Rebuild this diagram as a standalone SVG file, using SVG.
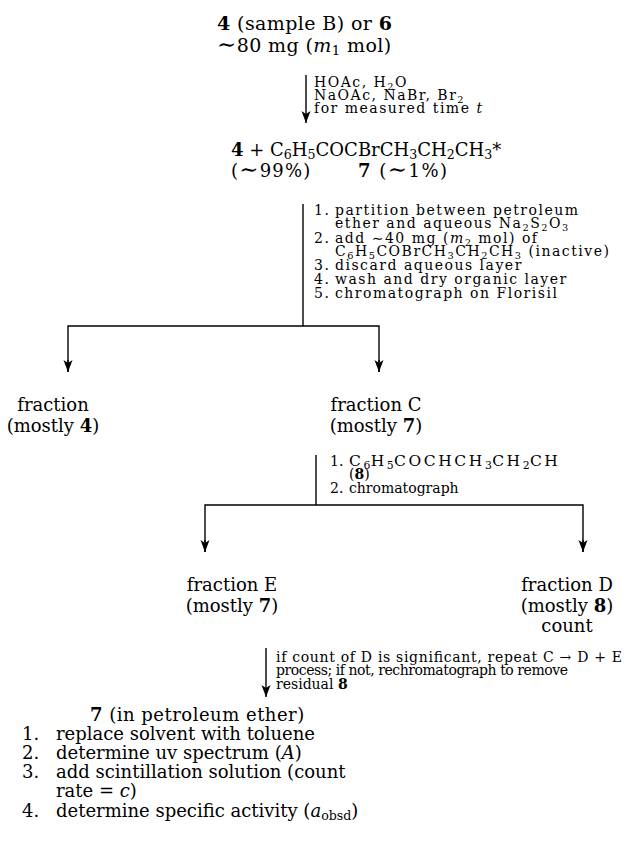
<svg xmlns="http://www.w3.org/2000/svg" width="626" height="843" viewBox="0 0 626 843">
<style>
text{font-family:"DejaVu Serif","Liberation Serif",serif;font-size:18px;fill:#000}
.s{font-size:14px;letter-spacing:1.5px}
.n{letter-spacing:0}
.f{font-size:15.5px;letter-spacing:2.6px}
.f .u{letter-spacing:0.3px}
.t{font-size:19px;letter-spacing:0.4px}
.b{font-weight:bold}
.i{font-style:italic}
.u{font-size:70%}
.w{font-size:23px}
.m{text-anchor:middle}
.ln{stroke:#000;stroke-width:1.4;fill:none}
</style>
<defs>
<marker id="ah" markerUnits="userSpaceOnUse" markerWidth="13" markerHeight="10" refX="12" refY="5" orient="auto">
<path d="M0,0.5 L12,5 L0,9.5 L3,5 z" fill="#000"/>
</marker>
</defs>
<rect width="626" height="843" fill="#fff"/>
<g id="connectors">
<line class="ln" x1="306" y1="75" x2="306" y2="123" marker-end="url(#ah)"/>
<line class="ln" x1="303" y1="204" x2="303" y2="326"/>
<polyline class="ln" points="68,372 68,326 379,326 379,372"/>
<line class="ln" x1="68" y1="360" x2="68" y2="372" marker-end="url(#ah)"/>
<line class="ln" x1="379" y1="360" x2="379" y2="372" marker-end="url(#ah)"/>
<line class="ln" x1="316" y1="455" x2="316" y2="505"/>
<polyline class="ln" points="205,552 205,505 583,505 583,552"/>
<line class="ln" x1="205" y1="540" x2="205" y2="552" marker-end="url(#ah)"/>
<line class="ln" x1="583" y1="540" x2="583" y2="552" marker-end="url(#ah)"/>
<line class="ln" x1="266" y1="648" x2="266" y2="697" marker-end="url(#ah)"/>
</g>
<g id="start">
<text class="t" x="217" y="30"><tspan class="b">4</tspan> (sample B) or <tspan class="b">6</tspan></text>
<text class="t" x="217" y="52"><tspan class="w">∼</tspan>80 mg (<tspan class="i">m</tspan><tspan class="u" dy="3">1</tspan><tspan dy="-3"> mol)</tspan></text>
</g>
<g id="reagents1">
<text class="s" x="314" y="87">HOAc, H<tspan class="u" dy="3">2</tspan><tspan dy="-3">O</tspan></text>
<text class="s" x="314" y="100">NaOAc, NaBr, Br<tspan class="u" dy="3">2</tspan></text>
<text class="s" x="314" y="113">for measured time <tspan class="i">t</tspan></text>
</g>
<g id="products">
<text x="231" y="156"><tspan class="b">4</tspan> + C<tspan class="u" dy="3">6</tspan><tspan dy="-3">H</tspan><tspan class="u" dy="3">5</tspan><tspan dy="-3">COCBrCH</tspan><tspan class="u" dy="3">3</tspan><tspan dy="-3">CH</tspan><tspan class="u" dy="3">2</tspan><tspan dy="-3">CH</tspan><tspan class="u" dy="3">3</tspan><tspan dy="-3">*</tspan></text>
<text x="231" y="177" style="letter-spacing:1.2px">(<tspan class="w">∼</tspan>99%)</text>
<text x="358" y="177" style="letter-spacing:1.5px"><tspan class="b">7</tspan> (<tspan class="w">∼</tspan>1%)</text>
</g>
<g id="steps1">
<text class="s" x="314" y="215">1.</text>
<text class="s" x="335" y="215">partition between petroleum</text>
<text class="s" x="335" y="228">ether and aqueous Na<tspan class="u" dy="3">2</tspan><tspan dy="-3">S</tspan><tspan class="u" dy="3">2</tspan><tspan dy="-3">O</tspan><tspan class="u" dy="3">3</tspan></text>
<text class="s" x="314" y="243">2.</text>
<text class="s" x="335" y="243">add ∼40 mg (<tspan class="i">m</tspan><tspan class="u" dy="3">2</tspan><tspan dy="-3"> mol) of</tspan></text>
<text class="s" x="335" y="256">C<tspan class="u" dy="3">6</tspan><tspan dy="-3">H</tspan><tspan class="u" dy="3">5</tspan><tspan dy="-3">COBrCH</tspan><tspan class="u" dy="3">3</tspan><tspan dy="-3">CH</tspan><tspan class="u" dy="3">2</tspan><tspan dy="-3">CH</tspan><tspan class="u" dy="3">3</tspan><tspan dy="-3"> (inactive)</tspan></text>
<text class="s" x="314" y="270">3.</text>
<text class="s" x="335" y="270">discard aqueous layer</text>
<text class="s" x="314" y="284">4.</text>
<text class="s" x="335" y="284">wash and dry organic layer</text>
<text class="s" x="314" y="298">5.</text>
<text class="s" x="335" y="298">chromatograph on Florisil</text>
</g>
<g id="fractionA">
<text class="m" x="53" y="411">fraction</text>
<text class="m" x="53" y="432">(mostly <tspan class="b">4</tspan>)</text>
</g>
<g id="fractionC">
<text class="m" x="376" y="411">fraction C</text>
<text class="m" x="376" y="432">(mostly <tspan class="b">7</tspan>)</text>
</g>
<g id="steps2">
<text class="s n" x="330" y="466">1.</text>
<text class="s f" x="349" y="466">C<tspan class="u" dy="3">6</tspan><tspan dy="-3">H</tspan><tspan class="u" dy="3">5</tspan><tspan dy="-3">COCHCH</tspan><tspan class="u" dy="3">3</tspan><tspan dy="-3">CH</tspan><tspan class="u" dy="3">2</tspan><tspan dy="-3">CH</tspan></text>
<text class="s n" x="349" y="479">(<tspan class="b">8</tspan>)</text>
<text class="s n" x="330" y="493">2.</text>
<text class="s n" x="349" y="493">chromatograph</text>
</g>
<g id="fractionE">
<text class="m" x="232" y="591">fraction E</text>
<text class="m" x="232" y="612">(mostly <tspan class="b">7</tspan>)</text>
</g>
<g id="fractionD">
<text class="m" x="567" y="591">fraction D</text>
<text class="m" x="567" y="612">(mostly <tspan class="b">8</tspan>)</text>
<text class="m" x="567" y="632">count</text>
</g>
<g id="steps3">
<text class="s n" x="276" y="662" textLength="346">if count of D is significant, repeat C → D + E</text>
<text class="s n" x="276" y="675" textLength="292">process;  if not, rechromatograph to remove</text>
<text class="s n" x="276" y="689">residual <tspan class="b">8</tspan></text>
</g>
<g id="final">
<text x="90" y="721" style="letter-spacing:0.5px"><tspan class="b">7</tspan> (in petroleum ether)</text>
<text x="22" y="740">1.</text>
<text x="56" y="740">replace solvent with toluene</text>
<text x="22" y="759">2.</text>
<text x="56" y="759">determine uv spectrum (<tspan class="i">A</tspan>)</text>
<text x="22" y="778">3.</text>
<text x="56" y="778">add scintillation solution (count</text>
<text x="56" y="797">rate = <tspan class="i">c</tspan>)</text>
<text x="22" y="817">4.</text>
<text x="56" y="817">determine specific activity (<tspan class="i">a</tspan><tspan class="u" dy="3">obsd</tspan><tspan dy="-3">)</tspan></text>
</g>
</svg>
